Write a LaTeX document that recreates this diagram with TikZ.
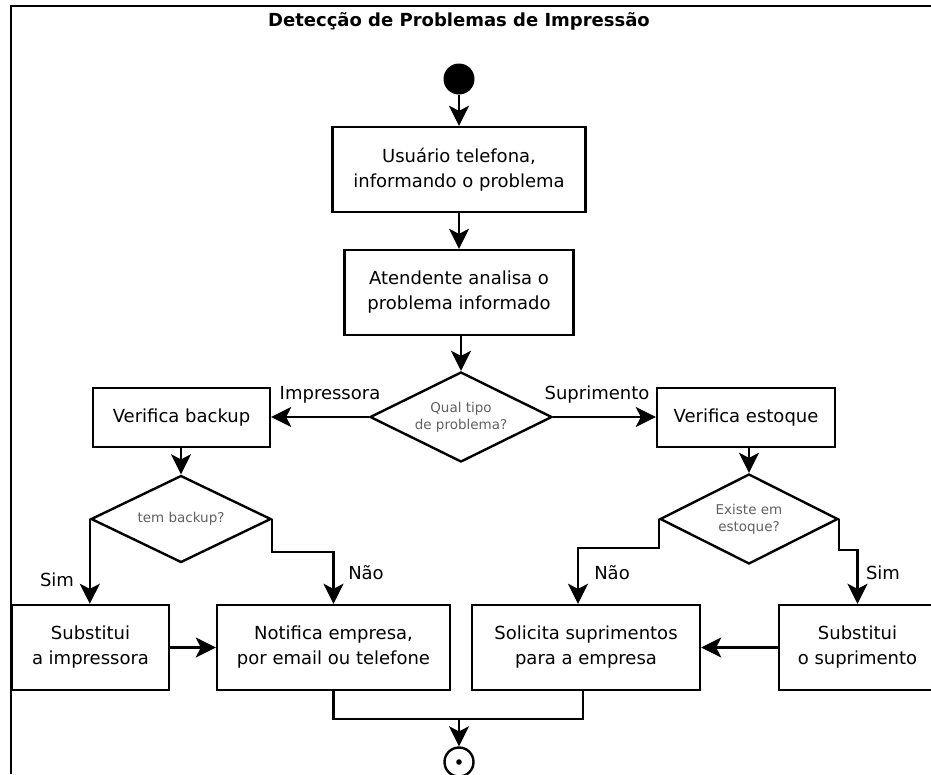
\documentclass[tikz,border=0pt]{standalone}
\usepackage{fontspec}
\setmainfont{DejaVu Sans}
\usetikzlibrary{shapes.geometric,arrows.meta,calc}

\begin{document}
\begin{tikzpicture}[x=1pt,y=-1pt,
  every node/.style={font=\fontsize{18}{25}\selectfont},
  proc/.style={draw, line width=2.4pt, rectangle, align=center, inner sep=0pt, text=black},
  decision/.style={draw, line width=2.4pt, diamond, aspect=2, inner sep=0pt, align=center,
    font=\fontsize{13.5}{17}\selectfont, text=black!62},
  flow/.style={line width=2.4pt, -{Stealth[length=20pt,width=20pt,inset=5pt]}},
  link/.style={line width=2.4pt},
  lbl/.style={inner sep=0pt, text=black}]
\useasboundingbox (0,0) rectangle (931,774);

% page frame
\draw[line width=2.8pt] (11,774) -- (11,6) -- (931,6);

% title
\node[anchor=base, font=\bfseries\fontsize{18}{22}\selectfont] (title) at (459,26.5)
  {Detecção de Problemas de Impressão};

% start and end
\node[circle, fill, minimum size=31, inner sep=0pt] (start) at (459,79) {};
\node[circle, draw, line width=2.4pt, minimum size=29, inner sep=0pt,
  path picture={\fill (path picture bounding box.center) circle (2.8);}] (stop) at (459,762) {};

% activities
\node[proc, minimum width=253, minimum height=85] (usr) at (459,169.5)
  {Usuário telefona,\\informando o problema};
\node[proc, minimum width=229, minimum height=85] (ana) at (459,292.5)
  {Atendente analisa o\\problema informado};
\node[proc, minimum width=177, minimum height=59] (bkp) at (181.5,417.5) {Verifica backup};
\node[proc, minimum width=178, minimum height=59] (stock) at (746,417.5) {Verifica estoque};
\node[proc, minimum width=157, minimum height=85] (subp) at (90.5,647.5)
  {Substitui\\a impressora};
\node[proc, minimum width=233, minimum height=85] (notif) at (333.5,647.5)
  {Notifica empresa,\\por email ou telefone};
\node[proc, minimum width=228, minimum height=85] (solic) at (586,647.5)
  {Solicita suprimentos\\para a empresa};
\node[proc, minimum width=157, minimum height=85] (subs) at (857.5,647.5)
  {Substitui\\o suprimento};

% decisions
\node[decision, minimum width=182, minimum height=90] (tipo) at (461,417)
  {Qual tipo\\de problema?};
\node[decision, minimum width=180, minimum height=87] (hasb) at (181,519) {tem backup?};
\node[decision, minimum width=178, minimum height=90] (hass) at (749,519)
  {Existe em\\estoque?};

% branch labels
\node[lbl] (limp) at (330,395) {Impressora};
\node[lbl] (lsup) at (597,395) {Suprimento};
\node[lbl] (lsim1) at (57,580) {Sim};
\node[lbl] (lnao1) at (366,573) {Não};
\node[lbl] (lnao2) at (612,573) {Não};
\node[lbl] (lsim2) at (883,573) {Sim};

% connectors
\draw[flow] (start) -- (start |- usr.north);
\draw[flow] (usr) -- (ana);
\draw[flow] (ana) -- (ana.south -| tipo.north) -- (tipo.north);
\draw[flow] (tipo) -- (tipo.west -| bkp.east);
\draw[flow] (tipo) -- (tipo.east -| stock.west);
\draw[flow] (bkp.south -| hasb.north) -- (hasb.north);
\draw[flow] (stock.south -| hass.north) -- (hass.north);
\draw[flow] (hasb.west) -- (hasb.west |- subp.north);
\draw[flow] (hasb.east) -- ++(0,33) -| (notif.north);
\draw[flow] (hass.west) -- ++(0,29) -| ([xshift=-8pt]solic.north);
\draw[flow] (hass.east) -- ++(0,31) -| (subs.north);
\draw[flow] (subp) -- (notif);
\draw[flow] (subs) -- (solic);

\coordinate (merge) at (459,719);
\draw[link] (notif.south) |- ([xshift=-3pt]solic.south |- merge) -- ([xshift=-3pt]solic.south);
\draw[flow] (merge) -- (stop);
\end{tikzpicture}
\end{document}
